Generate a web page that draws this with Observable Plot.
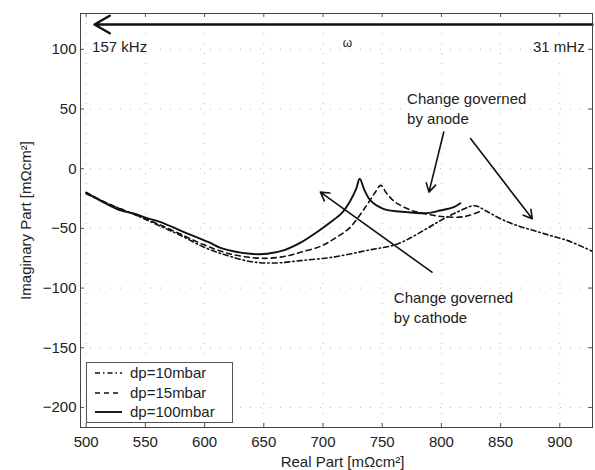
<!DOCTYPE html>
<html><head><meta charset="utf-8">
<script src="https://cdn.jsdelivr.net/npm/d3@7"></script>
<script src="https://cdn.jsdelivr.net/npm/@observablehq/plot@0.6"></script>
<style>
body{margin:0;background:#fff;font-family:"Liberation Sans",Arial,sans-serif;}
#wrap{position:relative;width:595px;height:470px;}
#legend{position:absolute;left:86px;top:362px;width:147px;height:61px;border:1px solid #555;background:#fff;box-sizing:border-box;}
.row{position:absolute;left:0;height:18px;width:145px;}
.row svg{position:absolute;left:8px;top:0;}
.row span{position:absolute;left:43px;top:0;line-height:18px;font-size:15px;color:#222;white-space:nowrap;}
</style></head><body><div id="wrap"></div>
<script>
// ---- data ----
const xTicks = [500, 550, 600, 650, 700, 750, 800, 850, 900];
const yTicks = [-200, -150, -100, -50, 0, 50, 100];
const seriesNames = ["dp=10mbar", "dp=15mbar", "dp=100mbar"];
const seriesDash = ["5,3,1.5,3", "5,4", "none"];

const dp10 = [[500,-21],[520,-30],[540,-38],[560,-47],[580,-56],[600,-66],[620,-73],[640,-78],[660,-79],[681,-77],[709,-74],[737,-68.5],[763,-63],[788,-50],[800,-43],[812,-37],[828,-31],[837,-35],[850,-42],[864,-47.6],[878,-51.8],[892,-56],[906,-60],[920,-65.8],[927,-69]];
const dp15 = [[500,-20],[520,-30],[540,-38],[560,-46],[580,-55],[600,-64],[620,-71],[640,-74.5],[655,-75],[670,-73],[681,-70],[698,-65],[709,-59],[722,-50],[731,-39],[738,-29],[744,-20],[748.7,-14],[754,-21],[761,-28],[775,-35],[793,-39],[805,-40.5],[820,-40],[832,-36]];
const dp100 = [[500,-20],[529,-35],[540,-37.5],[551.5,-41.4],[562.8,-44.8],[579.6,-51.8],[603.5,-61.6],[613.4,-66.3],[638.8,-71.3],[652.9,-71.3],[668,-68],[681,-62],[695,-53],[706,-45],[716,-37],[723,-27],[728,-17],[731,-8.4],[735,-18],[740,-26.6],[751,-33.6],[771,-36.4],[788,-37.2],[799,-35],[810.5,-32.2],[816,-29]];

const freqLabels = [
  {x: 505, y: 102, text: "157 kHz", anchor: "start"},
  {x: 720.7, y: 105, text: "ω", anchor: "middle"},
  {x: 921, y: 102, text: "31 mHz", anchor: "end"}
];
const noteLabels = [
  {x: 771, y: 58.1, text: "Change governed"},
  {x: 771, y: 41.3, text: "by anode"},
  {x: 759.8, y: -108.6, text: "Change governed"},
  {x: 759.8, y: -125.3, text: "by cathode"}
];
const bigArrow = [{x1: 927.6, y1: 120.8, x2: 507, y2: 120.8}];
const noteArrows = [
  {x1: 802, y1: 30.7, x2: 789.5, y2: -19.6},
  {x1: 824.6, y1: 25.2, x2: 876.7, y2: -42},
  {x1: 792, y1: -86.7, x2: 697.8, y2: -19.6}
];
const xLabel = "Real Part [mΩcm²]";
const yLabel = "Imaginary Part [mΩcm²]";

// ---- chart ----
const W = 595, H = 470, mL = 80, mR = 3, mT = 13, mB = 43;
const pw = W - mL - mR, ph = H - mT - mB;
const font = "Liberation Sans, Arial, sans-serif";
const series = [dp10, dp15, dp100];

const marks = [
  Plot.ruleX(xTicks, {x: d => d, stroke: "#888", strokeDasharray: "1,9", strokeOpacity: 0.6}),
  Plot.ruleY(yTicks, {y: d => d, stroke: "#888", strokeDasharray: "1,9", strokeOpacity: 0.6}),
  Plot.tickX(xTicks, {x: d => d, insetTop: ph - 4, stroke: "#555"}),
  Plot.tickX(xTicks, {x: d => d, insetBottom: ph - 4, stroke: "#555"}),
  Plot.tickY(yTicks, {y: d => d, insetRight: pw - 4, stroke: "#555"}),
  Plot.tickY(yTicks, {y: d => d, insetLeft: pw - 4, stroke: "#555"}),
  ...series.map((s, i) => Plot.line(s, {
    x: d => d[0], y: d => d[1], stroke: "#111",
    strokeWidth: i === 2 ? 1.9 : 1.6,
    strokeDasharray: seriesDash[i] === "none" ? null : seriesDash[i],
    curve: "catmull-rom"
  })),
  Plot.arrow(bigArrow, {x1: "x1", y1: "y1", x2: "x2", y2: "y2", stroke: "#111", strokeWidth: 2.4, headLength: 11}),
  Plot.arrow(noteArrows, {x1: "x1", y1: "y1", x2: "x2", y2: "y2", stroke: "#111", strokeWidth: 1.6, headLength: 9}),
  Plot.text(freqLabels.filter(d => d.anchor === "start"), {x: "x", y: "y", text: "text", textAnchor: "start", fontSize: 15, fill: "#222"}),
  Plot.text(freqLabels.filter(d => d.anchor === "middle"), {x: "x", y: "y", text: "text", textAnchor: "middle", fontSize: 12, fill: "#222"}),
  Plot.text(freqLabels.filter(d => d.anchor === "end"), {x: "x", y: "y", text: "text", textAnchor: "end", fontSize: 15, fill: "#222"}),
  Plot.text(noteLabels, {x: "x", y: "y", text: "text", textAnchor: "start", fontSize: 15, fill: "#222"}),
  Plot.text([xLabel], {text: d => d, frameAnchor: "bottom", lineAnchor: "middle", dy: 35, dx: 6, fontSize: 15, fill: "#222"}),
  Plot.text([yLabel], {text: d => d, frameAnchor: "left", lineAnchor: "middle", textAnchor: "middle", rotate: -90, dx: -54, fontSize: 15, fill: "#222"}),
  Plot.frame({stroke: "#444"})
];

const chart = Plot.plot({
  width: W, height: H,
  marginLeft: mL, marginRight: mR, marginTop: mT, marginBottom: mB,
  style: {fontFamily: font, fontSize: "15px", color: "#222", background: "white"},
  x: {domain: [495.2, 927.6], ticks: xTicks, tickSize: 0, tickPadding: 8.5, label: null},
  y: {domain: [-216.8, 130], ticks: yTicks, tickSize: 0, tickPadding: 4, label: null,
      tickFormat: d => d < 0 ? "\u2212" + (-d) : String(d)},
  marks
});
const wrap = document.getElementById("wrap");
wrap.appendChild(chart);

// legend overlay
const legend = document.createElement("div");
legend.id = "legend";
const rowCenters = [11.3, 30.7, 49.7];
seriesNames.forEach((name, i) => {
  const row = document.createElement("div");
  row.className = "row";
  row.style.top = (rowCenters[i] - 9 - 1) + "px";
  const dash = seriesDash[i] === "none" ? "" : `stroke-dasharray="${seriesDash[i]}"`;
  row.innerHTML = `<svg width="28" height="18"><line x1="0" y1="9" x2="27" y2="9" stroke="#111" stroke-width="${i===2?1.9:1.6}" ${dash}/></svg><span>${name}</span>`;
  legend.appendChild(row);
});
wrap.appendChild(legend);
</script>
</body></html>
